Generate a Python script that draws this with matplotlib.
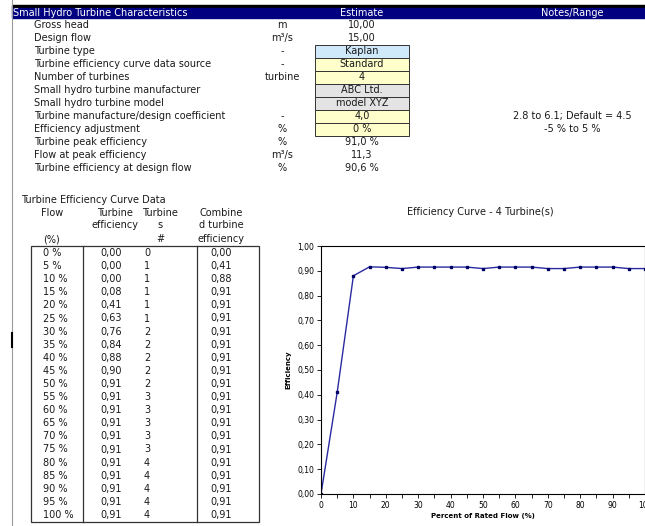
"""
Small hydro turbine sheet + efficiency curve
"""
import matplotlib
matplotlib.use("Agg")
from matplotlib import pyplot as plt
from matplotlib.patches import Rectangle
from matplotlib.ticker import MultipleLocator, FuncFormatter

# top block of the sheet
param_labels = ["Gross head", "Design flow", "Turbine type",
                "Turbine efficiency curve data source", "Number of turbines",
                "Small hydro turbine manufacturer", "Small hydro turbine model",
                "Turbine manufacture/design coefficient", "Efficiency adjustment",
                "Turbine peak efficiency", "Flow at peak efficiency",
                "Turbine efficiency at design flow"]
param_units = ["m", "m³/s", "-", "-", "turbine", "", "", "-", "%", "%", "m³/s", "%"]
param_values = ["10,00", "15,00", "Kaplan", "Standard", "4", "ABC Ltd.",
                "model XYZ", "4,0", "0 %", "91,0 %", "11,3", "90,6 %"]
param_fill = [None, None, "#cfe9fb", "#ffffcc", "#ffffcc", "#e4e4e4",
              "#e4e4e4", "#ffffcc", "#ffffcc", None, None, None]
param_notes = ["", "", "", "", "", "", "", "2.8 to 6.1; Default = 4.5",
               "-5 % to 5 %", "", "", ""]

# efficiency curve table
flow_pct = [0, 5, 10, 15, 20, 25, 30, 35, 40, 45, 50,
            55, 60, 65, 70, 75, 80, 85, 90, 95, 100]
turbine_eff = [0.00, 0.00, 0.00, 0.08, 0.41, 0.63, 0.76, 0.84, 0.88, 0.90, 0.91,
               0.91, 0.91, 0.91, 0.91, 0.91, 0.91, 0.91, 0.91, 0.91, 0.91]
n_turbines = [0, 1, 1, 1, 1, 1, 2, 2, 2, 2, 2, 3, 3, 3, 3, 3, 4, 4, 4, 4, 4]
combined_eff = [0.00, 0.41, 0.88, 0.91, 0.91, 0.91, 0.91, 0.91, 0.91, 0.91, 0.91,
                0.91, 0.91, 0.91, 0.91, 0.91, 0.91, 0.91, 0.91, 0.91, 0.91]
# unrounded values as they sit on the chart
combined_eff_chart = [0.000, 0.410, 0.880, 0.916, 0.914, 0.909, 0.915, 0.915,
                      0.915, 0.915, 0.909, 0.915, 0.915, 0.915, 0.909, 0.909,
                      0.915, 0.915, 0.915, 0.909, 0.909]

W, H = 645, 526
FS = 7
ink = "#1a1a1a"


def comma(v, nd=2):
    return f"{v:.{nd}f}".replace(".", ",")


fig = plt.figure(figsize=(W / 100, H / 100), dpi=100)
bg = fig.add_axes([0, 0, 1, 1])
bg.set_xlim(0, W)
bg.set_ylim(H, 0)
bg.axis("off")

# sheet edge + header bar
bg.plot([12, 12], [0, H], color="#9a9a9a", lw=0.8)
bg.add_patch(Rectangle((12, 5), W - 12, 3, color="black"))
bg.add_patch(Rectangle((12, 8), W - 12, 10, color="#000080"))
bg.text(13, 12.8, "Small Hydro Turbine Characteristics", color="white", fontsize=FS, va="center")
bg.text(362, 12.8, "Estimate", color="white", fontsize=FS, va="center", ha="center")
bg.text(572, 12.8, "Notes/Range", color="white", fontsize=FS, va="center", ha="center")

row_h = 13.0
for i, lab in enumerate(param_labels):
    y = 25 + row_h * i
    bg.text(34, y, lab, fontsize=FS, va="center", color=ink)
    bg.text(282, y, param_units[i], fontsize=FS, va="center", ha="center", color=ink)
    if param_fill[i]:
        bg.add_patch(Rectangle((315, y - row_h / 2), 94, row_h, facecolor=param_fill[i],
                               edgecolor="#333333", lw=0.7))
    bg.text(362, y, param_values[i], fontsize=FS, va="center", ha="center", color=ink)
    if param_notes[i]:
        bg.text(572, y, param_notes[i], fontsize=FS, va="center", ha="center", color=ink)

# table header
bg.text(21, 200, "Turbine Efficiency Curve Data", fontsize=FS, va="center", color=ink)
head = [(52, ["Flow", "", "(%)"]),
        (115, ["Turbine", "efficiency", ""]),
        (160, ["Turbine", "s", "#"]),
        (221, ["Combine", "d turbine", "efficiency"])]
for x, lines in head:
    for y, t in zip([213, 225, 239], lines):
        bg.text(x, y, t, fontsize=FS, va="center", ha="center", color=ink)

tab_top, tab_row = 253, 13.1
bg.add_patch(Rectangle((31, tab_top - 7), 228, tab_row * 20 + 14, fill=False,
                       edgecolor="#333333", lw=0.9))
for x in (83, 197):
    bg.plot([x, x], [tab_top - 7, tab_top + tab_row * 20 + 7], color="#333333", lw=0.9)
for i, f in enumerate(flow_pct):
    y = tab_top + tab_row * i
    bg.text(43, y, f"{f} %", fontsize=FS, va="center", color=ink)
    bg.text(111, y, comma(turbine_eff[i]), fontsize=FS, va="center", ha="center", color=ink)
    bg.text(147, y, str(n_turbines[i]), fontsize=FS, va="center", ha="center", color=ink)
    bg.text(221, y, comma(combined_eff[i]), fontsize=FS, va="center", ha="center", color=ink)

# stray cursor mark at the sheet edge
bg.plot([12, 12], [333, 347], color="black", lw=1.5)

# chart
x0, x1, y_top, y_bot = 321, 645, 246, 494
ax = fig.add_axes([x0 / W, 1 - y_bot / H, (x1 - x0) / W, (y_bot - y_top) / H])
ax.plot(flow_pct, combined_eff_chart, color="#2a2aa0", lw=1.0,
        marker="s", ms=1.6, mfc="#000066", mec="#000066")
ax.set_xlim(0, 100)
ax.set_ylim(0, 1)
ax.xaxis.set_major_locator(MultipleLocator(10))
ax.xaxis.set_minor_locator(MultipleLocator(5))
ax.yaxis.set_major_locator(MultipleLocator(0.1))
ax.yaxis.set_major_formatter(FuncFormatter(lambda v, p: comma(v)))
ax.tick_params(which="both", direction="out", length=3, width=0.6, labelsize=5.5,
               pad=2, colors="black")
for s in ax.spines.values():
    s.set_linewidth(0.8)
    s.set_color("black")
ax.set_ylabel("Efficiency", fontsize=5, fontweight="bold", labelpad=4)
ax.set_xlabel("Percent of Rated Flow (%)", fontsize=5, fontweight="bold", labelpad=2)
bg.text(480, 212, "Efficiency Curve - 4 Turbine(s)", fontsize=FS, va="center",
        ha="center", color=ink)

plt.savefig("out.png", dpi=100)
